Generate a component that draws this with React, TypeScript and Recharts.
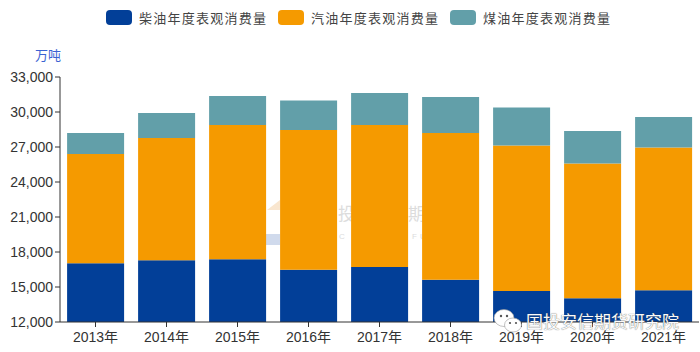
import { BarChart, Bar, XAxis, YAxis, Legend } from 'recharts';

const years = ['2013年', '2014年', '2015年', '2016年', '2017年', '2018年', '2019年', '2020年', '2021年'];
const diesel = [17030, 17290, 17370, 16480, 16710, 15630, 14660, 14030, 14720];
const gasoline = [9370, 10480, 11520, 11980, 12180, 12570, 12470, 11560, 12240];
const kerosene = [1800, 2140, 2480, 2530, 2740, 3090, 3260, 2780, 2610];
const yTicks = [12000, 15000, 18000, 21000, 24000, 27000, 30000, 33000];

const seriesNames = ['柴油年度表观消费量', '汽油年度表观消费量', '煤油年度表观消费量'];
const seriesColors = ['#023f98', '#f59a00', '#629fa9'];

const data = years.map((year, i) => ({
  year,
  diesel: diesel[i],
  gasoline: gasoline[i],
  kerosene: kerosene[i],
}));

const cjk = '"Noto Sans CJK SC", sans-serif';
const latin = '"Liberation Sans", sans-serif';

function LegendRow() {
  return (
    <div style={{ position: 'absolute', left: 106, top: 10, display: 'flex', fontFamily: cjk, fontSize: 13, color: '#444' }}>
      {seriesNames.map((name, i) => (
        <div key={name} style={{ display: 'flex', alignItems: 'center', width: 172, flex: 'none' }}>
          <span style={{ width: 26, height: 15, borderRadius: 4, background: seriesColors[i], marginRight: 7 }} />
          <span style={{ letterSpacing: 1.25, lineHeight: '15px', whiteSpace: 'nowrap' }}>{name}</span>
        </div>
      ))}
    </div>
  );
}

function Watermarks() {
  return (
    <>
      <div style={{ position: 'absolute', left: 267, top: 200, width: 13, height: 10, background: '#f9e6cf', clipPath: 'polygon(0 100%, 100% 0, 100% 100%)' }} />
      <div style={{ position: 'absolute', left: 266, top: 234, width: 14, height: 11, background: '#d0daec' }} />
      <div style={{ position: 'absolute', left: 338, top: 200, fontFamily: cjk, fontSize: 17, color: '#dcdcdc' }}>投</div>
      <div style={{ position: 'absolute', left: 408, top: 200, fontFamily: cjk, fontSize: 17, color: '#dcdcdc' }}>期</div>
      <div style={{ position: 'absolute', left: 339, top: 232, fontFamily: latin, fontSize: 8, color: '#dcdcdc' }}>C</div>
      <div style={{ position: 'absolute', left: 412, top: 232, fontFamily: latin, fontSize: 8, letterSpacing: 3, color: '#dcdcdc' }}>FU</div>
    </>
  );
}

function WeChatMark() {
  return (
    <>
      <svg width={30} height={24} style={{ position: 'absolute', left: 493, top: 309 }}>
        <ellipse cx={11} cy={9} rx={10} ry={8.5} fill="#fff" stroke="#9a9a9a" strokeWidth={0.6} />
        <ellipse cx={20} cy={16} rx={8.5} ry={7} fill="#fff" stroke="#9a9a9a" strokeWidth={0.6} />
        <circle cx={8} cy={7} r={1.2} fill="#555" />
        <circle cx={14} cy={7} r={1.2} fill="#555" />
        <circle cx={17} cy={14} r={1.1} fill="#555" />
        <circle cx={23} cy={14} r={1.1} fill="#555" />
      </svg>
      <div
        style={{
          position: 'absolute',
          left: 526,
          top: 313,
          fontFamily: cjk,
          fontSize: 17,
          lineHeight: '16px',
          whiteSpace: 'nowrap',
          color: '#fafafa',
          textShadow: '0 0 1px #444',
        }}
      >
        国投安信期货研究院
      </div>
    </>
  );
}

export default function App() {
  return (
    <div style={{ position: 'fixed', left: 0, top: 0, width: 700, height: 352, background: '#fff', overflow: 'hidden' }}>
      <Watermarks />
      <div style={{ position: 'absolute', left: 35, top: 47, fontFamily: cjk, fontSize: 13, lineHeight: '16px', color: '#3a62d2' }}>万吨</div>
      <div style={{ position: 'absolute', left: 0, top: 0 }}>
        <BarChart
          width={700}
          height={352}
          data={data}
          barCategoryGap="10%"
          margin={{ top: 77, right: 1, bottom: 0, left: 0 }}
        >
          <XAxis
            dataKey="year"
            height={30}
            interval={0}
            tickSize={5}
            axisLine={{ stroke: '#333' }}
            tickLine={{ stroke: '#333' }}
            tick={{ fill: '#333', fontSize: 14, dy: 3, fontFamily: latin + ', ' + cjk }}
          />
          <YAxis
            width={60}
            domain={[12000, 33000]}
            ticks={yTicks}
            allowDataOverflow
            tickSize={5}
            tickFormatter={(v: number) => v.toLocaleString('en-US')}
            axisLine={{ stroke: '#333' }}
            tickLine={{ stroke: '#333' }}
            tick={{ fill: '#333', fontSize: 14, fontFamily: latin }}
          />
          <Legend content={() => null} />
          <Bar dataKey="diesel" name={seriesNames[0]} stackId="oil" fill={seriesColors[0]} isAnimationActive={false} />
          <Bar dataKey="gasoline" name={seriesNames[1]} stackId="oil" fill={seriesColors[1]} isAnimationActive={false} />
          <Bar dataKey="kerosene" name={seriesNames[2]} stackId="oil" fill={seriesColors[2]} isAnimationActive={false} />
        </BarChart>
      </div>
      <LegendRow />
      <WeChatMark />
    </div>
  );
}
